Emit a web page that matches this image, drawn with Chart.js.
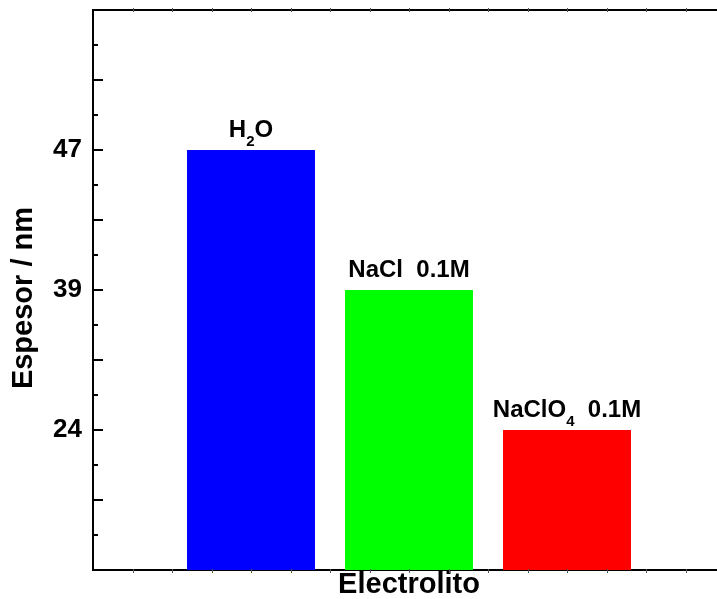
<!DOCTYPE html>
<html><head><meta charset="utf-8">
<script src="https://cdn.jsdelivr.net/npm/chart.js@4"></script>
<style>html,body{margin:0;padding:0;background:#fff;overflow:hidden}#wrap{width:725px;height:599px;overflow:hidden}</style>
</head><body><div id="wrap"><canvas id="c" width="725" height="599"></canvas></div>
<script>
// ---- data ----
const categories = ['H₂O', 'NaCl  0.1M', 'NaClO₄  0.1M'];
const thickness = [47, 39, 24];            // Espesor / nm
const yTickLabels = ['24', '39', '47'];    // labelled ticks on the y axis (bottom to top)
const barColors = ['#0000ff', '#00ff00', '#ff0000'];
const xTitle = 'Electrolito';
const yTitle = 'Espesor / nm';

// ---- build scale label lists ----
const xLabels = [''].concat(categories, ['']);
const yLevels = new Array(17).fill('');
yTickLabels.forEach((t, k) => { yLevels[4 * (k + 1)] = t; });
const barData = [null].concat(thickness.map(String), [null]);
const bgColors = [null].concat(barColors, [null]);

const FONT = '"Liberation Sans", Arial, Helvetica, sans-serif';
const SUB = {'₀':'0','₁':'1','₂':'2','₃':'3','₄':'4','₅':'5','₆':'6','₇':'7','₈':'8','₉':'9'};

function drawRich(ctx, text, cx, baseY) {
  const segs = [];
  for (const ch of text) {
    const sub = SUB[ch] !== undefined;
    const c = sub ? SUB[ch] : ch;
    if (segs.length && segs[segs.length - 1].sub === sub) segs[segs.length - 1].t += c;
    else segs.push({t: c, sub: sub});
  }
  let total = 0;
  segs.forEach(s => {
    s.font = (s.sub ? 'bold 15px ' : 'bold 24px ') + FONT;
    ctx.font = s.font;
    s.w = ctx.measureText(s.t).width;
    total += s.w;
  });
  let x = cx - total / 2;
  ctx.textAlign = 'left';
  ctx.textBaseline = 'alphabetic';
  ctx.fillStyle = '#000';
  segs.forEach(s => {
    ctx.font = s.font;
    ctx.fillText(s.t, x, baseY + (s.sub ? 9 : 0));
    x += s.w;
  });
}

const decorPlugin = {
  id: 'decor',
  afterDatasetsDraw(chart) {
    const ctx = chart.ctx;
    const meta = chart.getDatasetMeta(0);
    ctx.save();
    categories.forEach((name, i) => {
      const el = meta.data[i + 1];
      if (!el) return;
      drawRich(ctx, name, el.x, el.y - 13);
    });
    ctx.restore();
  },
  afterDraw(chart) {
    const ctx = chart.ctx;
    const a = chart.chartArea;
    const ys = chart.scales.y, xs = chart.scales.x;
    ctx.save();
    ctx.strokeStyle = '#000';
    ctx.lineWidth = 2;
    ctx.beginPath();
    ctx.moveTo(a.left - 1, a.top);
    ctx.lineTo(a.right, a.top);
    ctx.stroke();
    for (let i = 0; i < yLevels.length; i++) {
      const y = Math.round(ys.getPixelForValue(i));
      const len = (i % 2 === 0) ? 10 : 5;
      ctx.beginPath();
      ctx.moveTo(a.left, y);
      ctx.lineTo(a.left + len, y);
      ctx.stroke();
    }
    ctx.strokeStyle = '#555';
    ctx.lineWidth = 1;
    for (let k = 1; k < (xLabels.length - 1) * 4; k++) {
      const x = Math.round(xs.getPixelForValue(k / 4)) + 0.5;
      ctx.beginPath();
      ctx.moveTo(x, a.bottom - 1); ctx.lineTo(x, a.bottom + 3);
      ctx.moveTo(x, a.top - 2); ctx.lineTo(x, a.top + 2);
      ctx.stroke();
    }
    ctx.restore();
  }
};

new Chart(document.getElementById('c'), {
  type: 'bar',
  data: {
    labels: xLabels,
    datasets: [{
      data: barData,
      backgroundColor: bgColors,
      borderWidth: 0,
      categoryPercentage: 1,
      barPercentage: 0.81
    }]
  },
  options: {
    responsive: false,
    animation: false,
    devicePixelRatio: 1,
    layout: { padding: { top: 10, right: 0, left: 0, bottom: 0 } },
    plugins: { legend: { display: false }, tooltip: { enabled: false } },
    scales: {
      x: {
        type: 'category',
        offset: false,
        grid: { display: false, drawTicks: false, tickLength: 0 },
        border: { display: true, color: '#000', width: 2 },
        ticks: { display: false },
        title: {
          display: true, text: xTitle, color: '#000',
          font: { family: FONT, size: 29, weight: 'bold', lineHeight: 1 },
          padding: { top: 0, bottom: 0 }
        },
        afterFit(scale) { scale.height = 29; scale.paddingLeft = 0; scale.paddingRight = 0; }
      },
      y: {
        type: 'category',
        labels: yLevels,
        reverse: true,
        offset: false,
        bounds: 'ticks',
        grid: { display: false, drawTicks: false, tickLength: 0 },
        border: { display: true, color: '#000', width: 2 },
        ticks: {
          autoSkip: false, color: '#000', padding: 11,
          font: { family: FONT, size: 26, weight: 'bold' }
        },
        title: {
          display: true, text: yTitle + '\u00a0\u00a0', color: '#000',
          font: { family: FONT, size: 29, weight: 'bold', lineHeight: 1 },
          padding: { top: 9, bottom: 0 }
        },
        afterFit(scale) { scale.width = 93; scale.paddingTop = 0; scale.paddingBottom = 0; }
      }
    }
  },
  plugins: [decorPlugin]
});
</script>
</body></html>
